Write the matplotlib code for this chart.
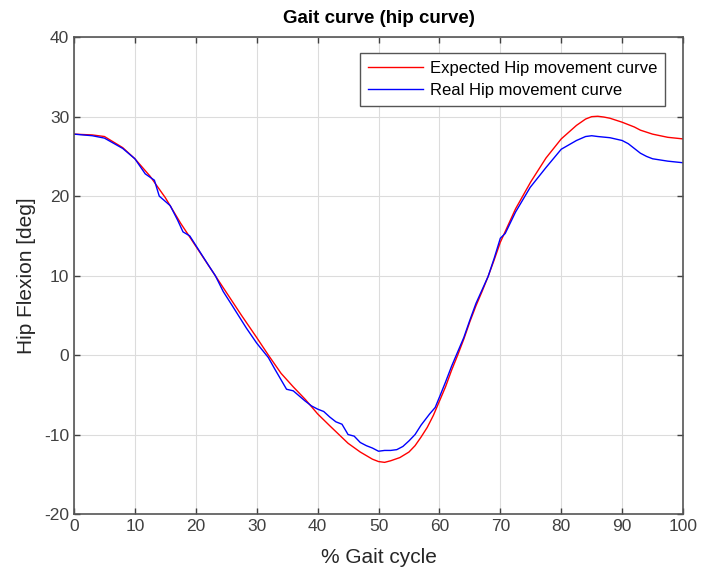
import matplotlib.pyplot as plt

plt.rcParams['font.family'] = ['Liberation Sans', 'DejaVu Sans']
plt.rcParams['axes.unicode_minus'] = False

# expected hip curve (red)
exp_x = [0, 3, 5, 8, 10, 12.5, 15, 17.5, 20, 22.5, 25, 27.5, 30, 32, 34, 36, 38, 40, 42, 45,
         47, 49, 50, 51, 52, 53.5, 55, 56, 57, 58, 59, 60, 61, 62, 63, 64, 65, 66, 67, 68,
         69, 70, 72.5, 75, 77.5, 80, 82.5, 84, 85, 86, 87, 88, 90, 92, 93, 95, 97.5, 100]
exp_y = [27.8, 27.7, 27.5, 26.1, 24.7, 22.5, 19.8, 16.6, 13.7, 10.8, 7.9, 5.0, 2.2, -0.1,
         -2.3, -4.0, -5.6, -7.4, -8.9, -11.1, -12.2, -13.1, -13.4, -13.5, -13.3, -12.9,
         -12.2, -11.4, -10.3, -9.1, -7.6, -5.8, -4.0, -1.9, 0.0, 2.0, 4.2, 6.2, 8.0, 9.9,
         12.0, 14.2, 18.4, 21.8, 24.8, 27.2, 28.9, 29.7, 30.0, 30.05, 29.95, 29.8, 29.3,
         28.7, 28.3, 27.8, 27.4, 27.2]

# real hip curve (blue)
real_x = [0, 3, 5, 8, 10, 11.7, 13.2, 14.0, 15.8, 17.0, 17.9, 19.0, 20, 22, 23.2, 24.5,
          26, 28.3, 30, 31.9, 33, 34.9, 36, 37.9, 39, 40, 41, 42, 43, 44, 45, 46, 47, 48,
          49, 50, 51, 52, 53, 54, 55, 56, 57, 58.4, 59.3, 60, 61, 62, 63, 64, 65, 66, 67,
          68, 69, 70, 70.8, 72.5, 74.9, 77.5, 80, 82.5, 84, 85, 86, 88, 90, 91, 92, 93, 94,
          95, 97.5, 100]
real_y = [27.8, 27.6, 27.3, 26.0, 24.7, 22.8, 22.0, 20.0, 18.8, 17.0, 15.5, 15.0, 13.8,
          11.4, 10.0, 8.0, 6.2, 3.4, 1.5, -0.3, -1.8, -4.3, -4.5, -5.75, -6.4, -6.8, -7.1,
          -7.8, -8.4, -8.7, -10.0, -10.2, -11.0, -11.4, -11.7, -12.1, -12.0, -12.0, -11.9,
          -11.5, -10.8, -10.0, -8.8, -7.4, -6.6, -5.3, -3.4, -1.4, 0.4, 2.2, 4.4, 6.5, 8.2,
          9.9, 12.2, 14.7, 15.3, 18.0, 21.1, 23.6, 25.9, 27.0, 27.5, 27.6, 27.5, 27.35,
          27.0, 26.6, 26.0, 25.4, 25.0, 24.7, 24.4, 24.2]

fig = plt.figure(figsize=(7.02, 5.81), dpi=100)
ax = fig.add_axes([0.1054, 0.1153, 0.8676, 0.8207])

ax.plot(exp_x, exp_y, color='#ff0000', lw=1.0, label='Expected Hip movement curve')
ax.plot(real_x, real_y, color='#0000ff', lw=1.0, label='Real Hip movement curve')

ax.set_xlim(0, 100)
ax.set_ylim(-20, 40)
ax.set_xticks(range(0, 101, 10))
ax.set_yticks(range(-20, 41, 10))
ax.grid(True, color='#dcdcdc', lw=0.8)
ax.set_axisbelow(True)
ax.tick_params(direction='in', top=True, right=True, labelsize=12.5, colors='#404040',
               length=4, width=1)
for s in ax.spines.values():
    s.set_color('#555555')
    s.set_linewidth(1.2)

ax.set_xlabel('% Gait cycle', fontsize=15, color='#262626', labelpad=10)
ax.set_ylabel('Hip Flexion [deg]', fontsize=15, color='#262626', labelpad=6)
ax.set_title('Gait curve (hip curve)', fontsize=13.5, fontweight='bold', pad=10)

leg = ax.legend(loc='upper right', fontsize=12, fancybox=False, framealpha=1,
                edgecolor='#555555', handlelength=3.35, handletextpad=0.4,
                borderpad=0.45, labelspacing=0.45,
                bbox_to_anchor=(0.984, 0.984))
leg.get_frame().set_linewidth(1.0)

fig.savefig('out.png', dpi=100)
